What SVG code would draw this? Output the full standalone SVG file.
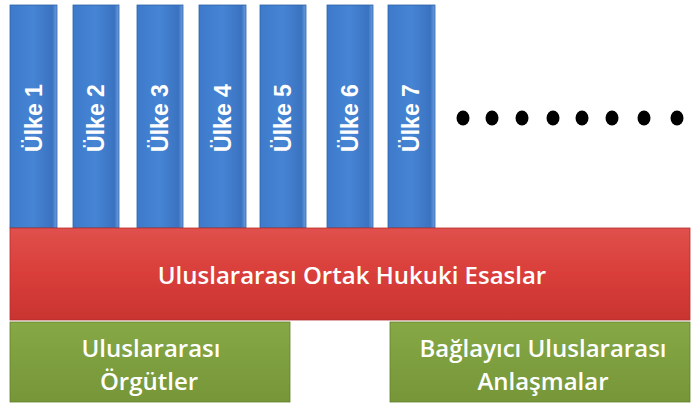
<svg xmlns="http://www.w3.org/2000/svg" width="700" height="408" viewBox="0 0 700 408">
<defs>
<linearGradient id="gBlue" x1="0" y1="0" x2="1" y2="0">
<stop offset="0" stop-color="#3d7acb"/><stop offset="0.5" stop-color="#4684d4"/><stop offset="0.9" stop-color="#3a73c0"/><stop offset="1" stop-color="#6d9ee0"/>
</linearGradient>
<linearGradient id="gRed" x1="0" y1="0" x2="0" y2="1">
<stop offset="0" stop-color="#e0504c"/><stop offset="0.5" stop-color="#d93e3a"/><stop offset="1" stop-color="#c93431"/>
</linearGradient>
<linearGradient id="gGreen" x1="0" y1="0" x2="0" y2="1">
<stop offset="0" stop-color="#86a845"/><stop offset="1" stop-color="#769638"/>
</linearGradient>
<style>
.bar{fill:url(#gBlue);stroke:#2f63a6;stroke-width:0.8}
.bt{font-family:"Liberation Sans",Arial,sans-serif;font-weight:bold;font-size:23px;fill:#fff;text-anchor:middle;dominant-baseline:central}
.lt{font-family:"Open Sans","Liberation Sans",sans-serif;font-weight:600;font-size:24px;fill:#fff;text-anchor:middle}
.dot{fill:#000}
</style>
</defs>
<g id="nodes">
<g id="ulke1"><rect class="bar" x="10" y="5" width="47" height="223"/><text class="bt" transform="translate(34 118) rotate(-90)">Ülke 1</text></g>
<g id="ulke2"><rect class="bar" x="73" y="5" width="46" height="223"/><text class="bt" transform="translate(96 118) rotate(-90)">Ülke 2</text></g>
<g id="ulke3"><rect class="bar" x="137" y="5" width="46" height="223"/><text class="bt" transform="translate(160 118) rotate(-90)">Ülke 3</text></g>
<g id="ulke4"><rect class="bar" x="199" y="5" width="47" height="223"/><text class="bt" transform="translate(223 118) rotate(-90)">Ülke 4</text></g>
<g id="ulke5"><rect class="bar" x="260" y="5" width="46" height="223"/><text class="bt" transform="translate(283 118) rotate(-90)">Ülke 5</text></g>
<g id="ulke6"><rect class="bar" x="327" y="5" width="46" height="223"/><text class="bt" transform="translate(350 118) rotate(-90)">Ülke 6</text></g>
<g id="ulke7"><rect class="bar" x="388" y="5" width="47" height="223"/><text class="bt" transform="translate(411 118) rotate(-90)">Ülke 7</text></g>
<g id="dots">
<ellipse class="dot" cx="463" cy="118" rx="6.5" ry="7.5"/>
<ellipse class="dot" cx="492" cy="118" rx="6.5" ry="7.5"/>
<ellipse class="dot" cx="522" cy="118" rx="6.5" ry="7.5"/>
<ellipse class="dot" cx="553" cy="118" rx="6.5" ry="7.5"/>
<ellipse class="dot" cx="582" cy="118" rx="6.5" ry="7.5"/>
<ellipse class="dot" cx="612" cy="118" rx="6.5" ry="7.5"/>
<ellipse class="dot" cx="644" cy="118" rx="6.5" ry="7.5"/>
<ellipse class="dot" cx="677" cy="118" rx="6.5" ry="7.5"/>
</g>
<g id="esaslar"><rect x="10" y="228" width="680" height="92" fill="url(#gRed)" stroke="#b22f2c" stroke-width="0.8"/><text class="lt" x="352" y="284">Uluslararası Ortak Hukuki Esaslar</text></g>
<g id="orgutler"><rect x="10" y="322" width="280" height="80" fill="url(#gGreen)" stroke="#61802b" stroke-width="0.8"/><text class="lt" x="151" y="357">Uluslararası</text><text class="lt" x="149" y="390">Örgütler</text></g>
<g id="anlasmalar"><rect x="390" y="322" width="300" height="80" fill="url(#gGreen)" stroke="#61802b" stroke-width="0.8"/><text class="lt" x="543" y="357">Bağlayıcı Uluslararası</text><text class="lt" x="543" y="390">Anlaşmalar</text></g>
</g>
<g id="connectors"/>
</svg>
